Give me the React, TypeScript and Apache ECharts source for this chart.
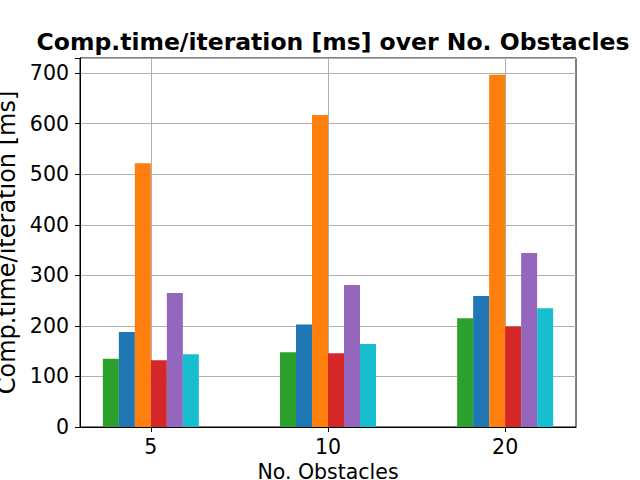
import React, { useEffect, useRef } from "react";
import * as echarts from "echarts";

const categories = ["5", "10", "20"];
const positions = [0, 1, 2];
const seriesColors = ["#2ca02c", "#1f77b4", "#ff7f0e", "#d62728", "#9467bd", "#17becf"];
const greenValues = [135, 148, 215];
const blueValues = [188, 203, 259];
const orangeValues = [522, 617, 697];
const redValues = [132, 146, 199];
const purpleValues = [265, 281, 344];
const cyanValues = [144, 164, 235];
const allSeries = [greenValues, blueValues, orangeValues, redValues, purpleValues, cyanValues];
const yTicks = [0, 100, 200, 300, 400, 500, 600, 700];

const FONT = "DejaVu Sans";

export default function App() {
  const ref = useRef<HTMLDivElement>(null);
  useEffect(() => {
    if (!ref.current) return;
    const chart = echarts.init(ref.current, undefined, { renderer: "svg" });
    chart.setOption({
      animation: false,
      backgroundColor: "#ffffff",
      textStyle: { fontFamily: FONT },
      title: {
        text: "Comp.time/iteration [ms] over No. Obstacles",
        left: 328,
        top: 25,
        textAlign: "center",
        textStyle: { fontFamily: FONT, fontSize: 23.5, fontWeight: "bold", color: "#000" },
      },
      grid: {
        left: 80,
        right: 64,
        top: 58,
        bottom: 53,
        outerBoundsMode: "none",
        containLabel: false,
        show: true,
        borderColor: "#000",
        borderWidth: 1,
        backgroundColor: "transparent",
      },
      xAxis: {
        type: "value",
        min: -0.4,
        max: 2.4,
        name: "No. Obstacles",
        nameLocation: "middle",
        nameGap: 31,
        nameTextStyle: { fontFamily: FONT, fontSize: 20.5, color: "#000" },
        axisLine: { show: true, onZero: false, lineStyle: { color: "#000", width: 1 } },
        axisTick: { show: true, customValues: positions, length: 5, lineStyle: { color: "#000" } },
        axisLabel: {
          customValues: positions,
          margin: 9,
          fontFamily: FONT,
          fontSize: 20.5,
          color: "#000",
          formatter: (v: number) => categories[Math.round(v)] ?? "",
        },
        splitLine: { show: true, lineStyle: { color: "#b0b0b0", width: 1 } },
      },
      yAxis: {
        type: "value",
        min: 0,
        max: 730,
        interval: 100,
        name: "Comp.time/iteration [ms]",
        nameLocation: "middle",
        nameGap: 56,
        nameTextStyle: { fontFamily: FONT, fontSize: 24, color: "#000" },
        axisLine: { show: true, onZero: false, lineStyle: { color: "#000", width: 1 } },
        axisTick: { show: true, length: 5, lineStyle: { color: "#000" } },
        axisLabel: {
          margin: 11,
          fontFamily: FONT,
          fontSize: 20.5,
          color: "#000",
          formatter: (v: number) => (yTicks.includes(v) ? String(v) : ""),
        },
        splitLine: { show: true, lineStyle: { color: "#b0b0b0", width: 1 } },
      },
      series: allSeries.map((vals, i) => ({
        type: "bar",
        name: "series" + (i + 1),
        data: positions.map((p, j) => [p, vals[j]]),
        barWidth: 16,
        barGap: "0%",
        itemStyle: { color: seriesColors[i] },
      })),
    });
    return () => chart.dispose();
  }, []);
  return <div ref={ref} style={{ width: 640, height: 480, position: "absolute", left: 0, top: 0 }} />;
}
